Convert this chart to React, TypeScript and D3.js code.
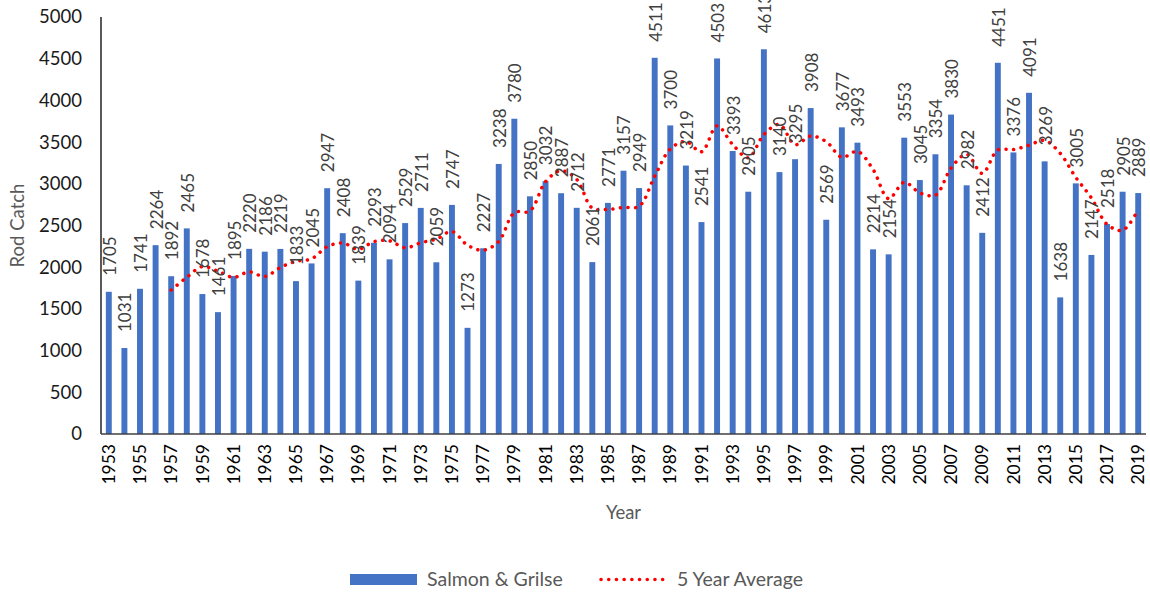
import React, { useEffect, useRef } from 'react';
import * as d3 from 'd3';

const years: number[] = d3.range(1953, 2020);

const catches: number[] = [
  1705, 1031, 1741, 2264, 1892, 2465, 1678, 1461, 1895, 2220,
  2186, 2219, 1833, 2045, 2947, 2408, 1839, 2293, 2094, 2529,
  2711, 2059, 2747, 1273, 2227, 3238, 3780, 2850, 3032, 2887,
  2712, 2061, 2771, 3157, 2949, 4511, 3700, 3219, 2541, 4503,
  3393, 2905, 4613, 3140, 3295, 3908, 2569, 3677, 3493, 2214,
  2154, 3553, 3045, 3354, 3830, 2982, 2412, 4451, 3376, 4091,
  3269, 1638, 3005, 2147, 2518, 2905, 2889,
];

const yTicks: number[] = [0, 500, 1000, 1500, 2000, 2500, 3000, 3500, 4000, 4500, 5000];

const seriesName = 'Salmon & Grilse';
const trendName = '5 Year Average';
const period = 5;

const FONT = "Lato, 'Open Sans', sans-serif";

const App = () => {
  const ref = useRef<SVGSVGElement>(null);

  const graph = () => {
    const svg = d3.select(ref.current);
    svg.selectAll('*').remove();

    const width = 1150,
      height = 594,
      margin = { top: 17, right: 4, bottom: 160, left: 101 };

    const x = d3.scaleBand<number>()
      .domain(years)
      .range([margin.left, width - margin.right])
      .paddingInner(0.62)
      .paddingOuter(0.31);

    const y = d3.scaleLinear()
      .domain([0, 5000])
      .range([height - margin.bottom, margin.top]);

    const cx = (yr: number) => (x(yr) as number) + x.bandwidth() / 2;

    // y axis labels
    svg.append('g')
      .selectAll('text')
      .data(yTicks)
      .enter()
      .append('text')
      .attr('x', 82)
      .attr('y', d => y(d))
      .attr('dy', '0.35em')
      .attr('text-anchor', 'end')
      .style('font-family', FONT)
      .style('font-size', '18.5px')
      .style('fill', '#1a1a1a')
      .text(d => d);

    // bars
    svg.append('g')
      .selectAll('rect')
      .data(catches)
      .enter()
      .append('rect')
      .attr('x', (d, i) => x(years[i]) as number)
      .attr('width', x.bandwidth())
      .attr('y', d => y(d))
      .attr('height', d => y(0) - y(d))
      .attr('fill', '#4472C4');

    // axis lines
    svg.append('line')
      .attr('x1', margin.left).attr('x2', margin.left)
      .attr('y1', margin.top).attr('y2', y(0))
      .attr('stroke', '#000').attr('stroke-width', 1.3);
    svg.append('line')
      .attr('x1', margin.left).attr('x2', width - margin.right)
      .attr('y1', y(0)).attr('y2', y(0))
      .attr('stroke', '#404040').attr('stroke-width', 1.5);

    // 5 year moving average trendline
    const avg = catches
      .map((d, i) => (i < period - 1 ? null : { yr: years[i], v: d3.mean(catches.slice(i - period + 1, i + 1)) as number }))
      .filter(d => d !== null) as { yr: number; v: number }[];

    const line = d3.line<{ yr: number; v: number }>()
      .x(d => cx(d.yr))
      .y(d => y(d.v))
      .curve(d3.curveCatmullRom.alpha(0.5));

    svg.append('path')
      .datum(avg)
      .attr('d', line)
      .attr('fill', 'none')
      .attr('stroke', '#FF0000')
      .attr('stroke-width', 3.5)
      .attr('stroke-linecap', 'round')
      .attr('stroke-dasharray', '0.1 7.5');

    // data labels
    svg.append('g')
      .selectAll('text')
      .data(catches)
      .enter()
      .append('text')
      .attr('transform', (d, i) => `translate(${cx(years[i]) + 1}, ${y(d) - 16}) rotate(-90)`)
      .attr('dy', '0.35em')
      .attr('text-anchor', 'start')
      .style('font-family', FONT)
      .style('font-size', '17px')
      .style('fill', '#404040')
      .text(d => d);

    // x axis labels (every other year)
    svg.append('g')
      .selectAll('text')
      .data(years.filter((d, i) => i % 2 === 0))
      .enter()
      .append('text')
      .attr('transform', d => `translate(${cx(d)}, ${y(0) + 10}) rotate(-90)`)
      .attr('dy', '0.35em')
      .attr('text-anchor', 'end')
      .style('font-family', FONT)
      .style('font-size', '17.5px')
      .style('fill', '#000')
      .text(d => d);

    // axis titles
    svg.append('text')
      .attr('x', (margin.left + width - margin.right) / 2)
      .attr('y', 519)
      .attr('text-anchor', 'middle')
      .style('font-family', FONT)
      .style('font-size', '18.5px')
      .style('fill', '#595959')
      .text('Year');

    svg.append('text')
      .attr('transform', `translate(24, ${(margin.top + y(0)) / 2}) rotate(-90)`)
      .attr('text-anchor', 'middle')
      .style('font-family', FONT)
      .style('font-size', '18.5px')
      .style('fill', '#595959')
      .text('Rod Catch');

    // legend
    const lg = svg.append('g');
    lg.append('rect')
      .attr('x', 350).attr('y', 574)
      .attr('width', 67).attr('height', 11)
      .attr('fill', '#4472C4');
    lg.append('text')
      .attr('x', 427).attr('y', 586)
      .style('font-family', FONT)
      .style('font-size', '19.5px')
      .style('fill', '#595959')
      .text(seriesName);
    lg.append('line')
      .attr('x1', 601).attr('x2', 670)
      .attr('y1', 579.5).attr('y2', 579.5)
      .attr('stroke', '#FF0000')
      .attr('stroke-width', 3.5)
      .attr('stroke-linecap', 'round')
      .attr('stroke-dasharray', '0.1 7.6');
    lg.append('text')
      .attr('x', 677).attr('y', 586)
      .style('font-family', FONT)
      .style('font-size', '19.5px')
      .style('fill', '#595959')
      .text(trendName);
  };

  useEffect(() => graph());

  return (
    <svg
      ref={ref}
      width="1150"
      height="594"
      style={{ position: 'absolute', left: 0, top: 0, background: '#fff' }}
    ></svg>
  );
};

export default App;
